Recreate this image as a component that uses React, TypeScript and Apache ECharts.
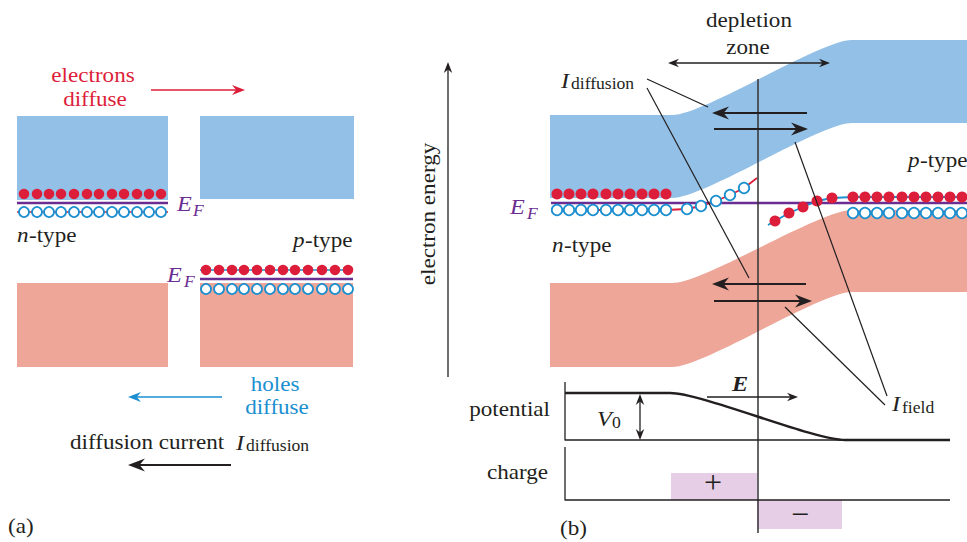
import { useEffect, useRef } from 'react';
import * as echarts from 'echarts';

// ---------- diagram data (diagram units: x 0..967 across, y 0..542 downward) ----------
// Panel (a): isolated n and p blocks [x0, y0, x1, y1]
const aConductionBlocks = [[17, 116, 168, 200], [200, 116, 354, 199]];
const aValenceBlocks = [[17, 283, 168, 367], [200, 283, 353, 367]];
const aFermiLines = [[[17, 203], [168, 203]], [[200, 279], [353, 279]]];
const aHoleTrack = [[[17, 212], [168, 212]]];
const aElectronTrack = [[[200, 270], [353, 270]]];
const aNElectrons = [[24, 194], [37, 194], [49, 194], [61, 194], [74, 194], [87, 194], [99, 194], [112, 194], [124, 194], [137, 194], [149, 194], [161, 194]];
const aNHoles = [[24, 212], [37, 212], [49, 212], [61, 212], [74, 212], [87, 212], [99, 212], [112, 212], [124, 212], [137, 212], [149, 212], [161, 212]];
const aPElectrons = [[206, 270], [219, 270], [232, 270], [244, 270], [257, 270], [270, 270], [283, 270], [295, 270], [308, 270], [322, 270], [335, 270], [348, 270]];
const aPHoles = [[206, 289], [219, 289], [232, 289], [244, 289], [257, 289], [270, 289], [283, 289], [295, 289], [308, 289], [322, 289], [335, 289], [348, 289]];

// Panel (b): bent bands [xLeft, bendStart, bendEnd, xRight, topLeft, bottomLeft, topRight, bottomRight]
const bConductionBand = [550, 672, 852, 967, 115, 198, 40, 123];
const bValenceBand = [550, 672, 852, 967, 283, 367, 210, 292];
const bFermiLine = [[[551, 203], [967, 203]]];
const bHoleTrack = [[[551, 210], [666, 210], [687, 209], [701, 206], [716, 201], [730, 195], [744, 188], [757, 178]]];
const bElectronTrack = [[[768, 225], [775, 221], [789, 213], [803, 207], [817, 201], [832, 198], [853, 197], [967, 197]]];
const bNElectrons = [[557, 194], [569, 194], [581, 194], [593, 194], [606, 194], [618, 194], [630, 194], [642, 194], [654, 194], [666, 194]];
const bNHoles = [[557, 210], [569, 210], [581, 210], [593, 210], [606, 210], [618, 210], [630, 210], [642, 210], [654, 210], [666, 210], [687, 209], [701, 206], [716, 201], [730, 195], [744, 188]];
const bPElectrons = [[775, 221], [789, 213], [803, 207], [817, 201], [832, 198], [853, 197], [865, 197], [877, 197], [889, 197], [902, 197], [914, 197], [926, 197], [938, 197], [950, 197], [962, 197]];
const bPHoles = [[853, 213], [865, 213], [877, 213], [889, 213], [902, 213], [914, 213], [926, 213], [938, 213], [950, 213], [962, 213]];

// Junction plane and label leader lines
const junctionLine = [[[758, 79], [758, 533]]];
const leaderLines = [
  [[647, 79], [708, 107]],
  [[647, 88], [749, 278]],
  [[795, 142], [887, 396]],
  [[785, 307], [885, 405]],
];

// Potential and charge profiles
const potentialFrame = [[[565, 382], [565, 440], [950, 440]]];
const chargeFrame = [[[565, 447], [565, 500], [950, 500]]];
const potentialProfile = [565, 670, 845, 950, 393, 440]; // xStart, bendStart, bendEnd, xEnd, high, low
const chargeBlocks = [[671, 473, 757, 500], [757, 500, 842, 529]];

// Arrows [x1, y1, x2, y2, headAtStart, headAtEnd]
const currentArrows = [
  [807, 113, 712, 113, 0, 1],
  [714, 129, 808, 129, 0, 1],
  [806, 284, 712, 284, 0, 1],
  [714, 301, 812, 301, 0, 1],
  [231, 465, 128, 465, 0, 1],
];
const thinArrows = [
  [668, 63, 830, 63, 1, 1],
  [448, 377, 448, 62, 0, 1],
  [707, 397, 798, 397, 0, 1],
  [640, 394, 640, 440, 1, 1],
];
const electronFlowArrow = [[151, 90, 245, 90, 0, 1]];
const holeFlowArrow = [[222, 397, 128, 397, 0, 1]];

// ---------- styles ----------
const C_BLUEBAND = '#93c0e6';
const C_SALMON = '#eda697';
const C_RED = '#dd1e3a';
const C_BLUE = '#1b8fd0';
const C_PURPLE = '#6a2d91';
const C_CHARGE = '#e6cfe6';
const C_INK = '#231f20';
const FONT = '"Liberation Serif", "Times New Roman", Times, serif';

const idx = (arr: unknown[]) => arr.map((_, i) => [i, 0]);

function rectSeries(rects: number[][], fill: string, z: number) {
  return {
    type: 'custom', coordinateSystem: 'cartesian2d', silent: true, z, data: idx(rects),
    renderItem: (p: any, api: any) => {
      const [x0, y0, x1, y1] = rects[p.dataIndex];
      const a = api.coord([x0, y0]);
      const b = api.coord([x1, y1]);
      return { type: 'rect', shape: { x: a[0], y: a[1], width: b[0] - a[0], height: b[1] - a[1] }, style: { fill } };
    },
  };
}

function polySeries(lines: number[][][], stroke: string, lineWidth: number, z: number) {
  return {
    type: 'custom', coordinateSystem: 'cartesian2d', silent: true, z, data: idx(lines),
    renderItem: (p: any, api: any) => ({
      type: 'polyline',
      shape: { points: lines[p.dataIndex].map((pt) => api.coord(pt)) },
      style: { stroke, lineWidth, fill: null, lineJoin: 'round' },
    }),
  };
}

function bandSeries(band: number[], fill: string, z: number) {
  return {
    type: 'custom', coordinateSystem: 'cartesian2d', silent: true, z, data: [[0, 0]],
    renderItem: (_p: any, api: any) => {
      const [x0, xs, xe, x1, tl, bl, tr, br] = band;
      const h = (xe - xs) * 0.18;
      const P = (x: number, y: number) => api.coord([x, y]).map((v: number) => v.toFixed(2)).join(' ');
      const d =
        `M${P(x0, tl)} L${P(xs, tl)} C${P(xs + h, tl)} ${P(xe - h, tr)} ${P(xe, tr)} L${P(x1, tr)} ` +
        `L${P(x1, br)} L${P(xe, br)} C${P(xe - h, br)} ${P(xs + h, bl)} ${P(xs, bl)} L${P(x0, bl)} Z`;
      return { type: 'path', shape: { pathData: d }, style: { fill } };
    },
  };
}

function profileSeries(prof: number[], stroke: string, lineWidth: number, z: number) {
  return {
    type: 'custom', coordinateSystem: 'cartesian2d', silent: true, z, data: [[0, 0]],
    renderItem: (_p: any, api: any) => {
      const [x0, xs, xe, x1, hi, lo] = prof;
      const h = (xe - xs) * 0.18;
      const P = (x: number, y: number) => api.coord([x, y]).map((v: number) => v.toFixed(2)).join(' ');
      const d = `M${P(x0, hi)} L${P(xs, hi)} C${P(xs + h, hi)} ${P(xe - h, lo)} ${P(xe, lo)} L${P(x1, lo)}`;
      return { type: 'path', shape: { pathData: d }, style: { stroke, lineWidth, fill: null } };
    },
  };
}

function arrowSeries(arrows: number[][], color: string, lineWidth: number, headLen: number, headHalf: number, z: number) {
  return {
    type: 'custom', coordinateSystem: 'cartesian2d', silent: true, z, data: idx(arrows),
    renderItem: (p: any, api: any) => {
      const [x1, y1, x2, y2, hs, he] = arrows[p.dataIndex];
      const a = api.coord([x1, y1]);
      const b = api.coord([x2, y2]);
      const dx = b[0] - a[0];
      const dy = b[1] - a[1];
      const len = Math.hypot(dx, dy) || 1;
      const ux = dx / len;
      const uy = dy / len;
      const head = (tx: number, ty: number, ex: number, ey: number) => ({
        type: 'polygon',
        shape: {
          points: [
            [tx, ty],
            [tx - ex * headLen - ey * headHalf, ty - ey * headLen + ex * headHalf],
            [tx - ex * headLen * 0.68, ty - ey * headLen * 0.68],
            [tx - ex * headLen + ey * headHalf, ty - ey * headLen - ex * headHalf],
          ],
        },
        style: { fill: color },
      });
      const s = hs ? [a[0] + ux * headLen * 0.6, a[1] + uy * headLen * 0.6] : a;
      const e = he ? [b[0] - ux * headLen * 0.6, b[1] - uy * headLen * 0.6] : b;
      const children: any[] = [
        { type: 'line', shape: { x1: s[0], y1: s[1], x2: e[0], y2: e[1] }, style: { stroke: color, lineWidth } },
      ];
      if (he) children.push(head(b[0], b[1], ux, uy));
      if (hs) children.push(head(a[0], a[1], -ux, -uy));
      return { type: 'group', children };
    },
  };
}

function dotSeries(points: number[][], filled: boolean, color: string, size: number, z: number) {
  return {
    type: 'scatter', silent: true, z, data: points, symbol: 'circle', symbolSize: size,
    emphasis: { disabled: true },
    itemStyle: filled
      ? { color, opacity: 1 }
      : { color: '#ffffff', borderColor: color, borderWidth: 1.8, opacity: 1 },
  };
}

type LabelOpts = { color?: string; size?: number; italic?: boolean; bold?: boolean; align?: string; rot?: number; sx?: number };
function label(x: number, y: number, text: string, o: LabelOpts = {}) {
  const align = o.align ?? 'left';
  return {
    type: 'text', x, y, rotation: o.rot ?? 0, scaleX: o.sx ?? 1.1, silent: true, z: 100,
    style: {
      text,
      fill: o.color ?? C_INK,
      fontFamily: FONT,
      fontSize: o.size ?? 21,
      fontStyle: o.italic ? 'italic' : 'normal',
      fontWeight: o.bold ? 'bold' : 'normal',
      align, verticalAlign: 'middle',
      textAlign: align, textVerticalAlign: 'middle',
    },
  };
}

const labels = [
  // panel (a)
  label(93, 75, 'electrons', { color: C_RED, align: 'center' }),
  label(95, 99, 'diffuse', { color: C_RED, align: 'center' }),
  label(177, 203, 'E', { color: C_PURPLE, italic: true, size: 22 }),
  label(193, 211, 'F', { color: C_PURPLE, italic: true, size: 16 }),
  label(17, 235, 'n', { italic: true }),
  label(29, 235, '-type'),
  label(293, 240, 'p', { italic: true }),
  label(305, 240, '-type'),
  label(167, 274, 'E', { color: C_PURPLE, italic: true, size: 22 }),
  label(184, 282, 'F', { color: C_PURPLE, italic: true, size: 16 }),
  label(275, 384, 'holes', { color: C_BLUE, align: 'center' }),
  label(277, 407, 'diffuse', { color: C_BLUE, align: 'center' }),
  label(70, 442, 'diffusion current'),
  label(236, 442, 'I', { italic: true, size: 22 }),
  label(246, 446, 'diffusion', { size: 16 }),
  label(8, 526, '(a)'),
  // panel (b)
  label(749, 20, 'depletion', { align: 'center' }),
  label(748, 47, 'zone', { align: 'center' }),
  label(561, 80, 'I', { italic: true, size: 22 }),
  label(571, 84, 'diffusion', { size: 16 }),
  label(908, 160, 'p', { italic: true }),
  label(920, 160, '-type'),
  label(510, 206, 'E', { color: C_PURPLE, italic: true, size: 22 }),
  label(527, 214, 'F', { color: C_PURPLE, italic: true, size: 16 }),
  label(552, 245, 'n', { italic: true }),
  label(564, 245, '-type'),
  label(428, 214, 'electron energy', { align: 'center', rot: Math.PI / 2 }),
  label(550, 409, 'potential', { align: 'right' }),
  label(597, 418, 'V', { italic: true, size: 22 }),
  label(612, 423, '0', { size: 16 }),
  label(732, 383, 'E', { italic: true, bold: true, size: 22 }),
  label(892, 403, 'I', { italic: true, size: 22 }),
  label(902, 408, 'field', { size: 16 }),
  label(548, 472, 'charge', { align: 'right' }),
  label(713, 482, '+', { align: 'center', size: 32, sx: 1 }),
  label(800, 514, '\u2212', { align: 'center', size: 32, sx: 1 }),
  label(560, 528, '(b)'),
];

export default function App() {
  const ref = useRef<HTMLDivElement>(null);
  useEffect(() => {
    if (!ref.current) return;
    const chart = echarts.init(ref.current, null, { renderer: 'svg' });
    chart.setOption({
      animation: false,
      backgroundColor: '#ffffff',
      grid: { left: 0, right: 0, top: 0, bottom: 0 },
      xAxis: { type: 'value', min: 0, max: 967, show: false },
      yAxis: { type: 'value', min: 0, max: 542, inverse: true, show: false },
      series: [
        rectSeries(aConductionBlocks, C_BLUEBAND, 1),
        rectSeries(aValenceBlocks, C_SALMON, 1),
        bandSeries(bConductionBand, C_BLUEBAND, 1),
        bandSeries(bValenceBand, C_SALMON, 1),
        rectSeries(chargeBlocks, C_CHARGE, 1),
        polySeries(aFermiLines, C_PURPLE, 2.6, 2),
        polySeries(bFermiLine, C_PURPLE, 2.6, 2),
        polySeries(aHoleTrack, C_RED, 1.5, 3),
        polySeries(aElectronTrack, C_BLUE, 1.5, 3),
        polySeries(bHoleTrack, C_RED, 1.8, 3),
        polySeries(bElectronTrack, C_BLUE, 1.8, 3),
        dotSeries(aNElectrons, true, C_RED, 10.5, 4),
        dotSeries(aPElectrons, true, C_RED, 10.5, 4),
        dotSeries(bNElectrons, true, C_RED, 11, 4),
        dotSeries(bPElectrons, true, C_RED, 11, 4),
        dotSeries(aNHoles, false, C_BLUE, 10, 4),
        dotSeries(aPHoles, false, C_BLUE, 10, 4),
        dotSeries(bNHoles, false, C_BLUE, 10.5, 4),
        dotSeries(bPHoles, false, C_BLUE, 10.5, 4),
        polySeries(junctionLine, '#333333', 1.5, 5),
        polySeries(leaderLines, C_INK, 1.2, 5),
        polySeries(potentialFrame, C_INK, 1.3, 5),
        polySeries(chargeFrame, C_INK, 1.3, 5),
        profileSeries(potentialProfile, C_INK, 2.4, 6),
        arrowSeries(currentArrows, C_INK, 2.2, 17, 6.5, 7),
        arrowSeries(thinArrows, C_INK, 1.3, 11, 4.2, 7),
        arrowSeries(electronFlowArrow, C_RED, 1.5, 13, 5, 7),
        arrowSeries(holeFlowArrow, C_BLUE, 1.5, 13, 5, 7),
      ],
      graphic: { elements: labels },
    });
    return () => chart.dispose();
  }, []);
  return <div ref={ref} style={{ position: 'absolute', left: 0, top: 0, width: 967, height: 542 }} />;
}
